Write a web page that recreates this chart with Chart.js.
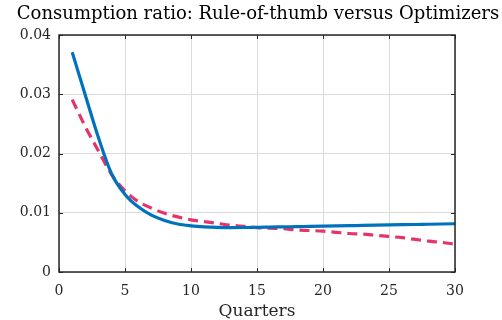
<!DOCTYPE html>
<html>
<head>
<meta charset="utf-8">
<script src="https://cdn.jsdelivr.net/npm/chart.js@4"></script>
<style>
  html, body { margin: 0; padding: 0; background: #fff; }
  #wrap { width: 502px; height: 320px; }
</style>
</head>
<body>
<div id="wrap"><canvas id="ratioChart" width="502" height="320"></canvas></div>
<script>
// Kwartalen en waarden
const quarters = [1, 2, 3, 4, 5, 6, 7, 8, 9, 10, 11, 12, 13, 14, 15,
                  16, 17, 18, 19, 20, 21, 22, 23, 24, 25, 26, 27, 28, 29, 30];
const ruleOfThumb = [0.0371, 0.0298, 0.0226, 0.0165, 0.0131, 0.0110, 0.0096, 0.0087, 0.0081, 0.0078,
                     0.00762, 0.00753, 0.0075, 0.00751, 0.00754, 0.00758, 0.00762, 0.00766, 0.0077, 0.00774,
                     0.00778, 0.00782, 0.00786, 0.0079, 0.00794, 0.00798, 0.00802, 0.00806, 0.0081, 0.00814];
const optimizers = [0.0291, 0.0245, 0.0204, 0.0164, 0.0137, 0.0119, 0.0108, 0.0099, 0.0093, 0.0088,
                    0.0085, 0.0082, 0.0079, 0.0077, 0.0075, 0.0074, 0.0073, 0.0071, 0.0070, 0.0069,
                    0.0067, 0.0065, 0.0064, 0.0062, 0.0060, 0.0058, 0.0055, 0.0052, 0.0050, 0.0047];
const xTicks = [0, 5, 10, 15, 20, 25, 30];
const yTicks = [0, 0.01, 0.02, 0.03, 0.04];
const chartTitle = 'Consumption ratio: Rule-of-thumb versus Optimizers';

const serif = "'DejaVu Serif', serif";

// Titel, kader en tick-streepjes (MATLAB-stijl)
const framePlugin = {
    id: 'frame',
    afterDraw(chart) {
        const ctx = chart.ctx;
        const a = chart.chartArea;
        const xs = chart.scales.x, ys = chart.scales.y;
        ctx.save();
        ctx.strokeStyle = '#262626';
        ctx.lineWidth = 1;
        ctx.beginPath();
        xTicks.forEach(t => {
            const px = Math.round(xs.getPixelForValue(t)) + 0.5;
            ctx.moveTo(px, a.bottom); ctx.lineTo(px, a.bottom - 4);
            ctx.moveTo(px, a.top); ctx.lineTo(px, a.top + 4);
        });
        yTicks.forEach(t => {
            const py = Math.round(ys.getPixelForValue(t)) + 0.5;
            ctx.moveTo(a.left, py); ctx.lineTo(a.left + 4, py);
            ctx.moveTo(a.right, py); ctx.lineTo(a.right - 4, py);
        });
        ctx.stroke();
        ctx.lineWidth = 1.5;
        ctx.strokeRect(a.left, a.top, a.right - a.left, a.bottom - a.top);
        ctx.fillStyle = '#000';
        ctx.font = '18px ' + serif;
        ctx.textAlign = 'center';
        ctx.textBaseline = 'middle';
        ctx.fillText(chartTitle, 258, 14);
        ctx.restore();
    }
};

new Chart(document.getElementById('ratioChart'), {
    type: 'line',
    data: {
        datasets: [{
            label: 'Rule-of-thumb',
            data: quarters.map((q, i) => ({ x: q, y: ruleOfThumb[i] })),
            borderColor: '#0072BD',
            borderWidth: 3.2,
            pointRadius: 0,
            cubicInterpolationMode: 'monotone',
            fill: false
        }, {
            label: 'Optimizers',
            data: quarters.map((q, i) => ({ x: q, y: optimizers[i] })),
            borderColor: '#E6336A',
            borderWidth: 3.2,
            borderDash: [10, 6],
            pointRadius: 0,
            cubicInterpolationMode: 'monotone',
            fill: false
        }]
    },
    options: {
        responsive: false,
        animation: false,
        layout: { padding: { top: 35, right: 47, left: 0, bottom: 0 } },
        plugins: {
            legend: { display: false },
            title: { display: false },
            tooltip: { enabled: false }
        },
        scales: {
            x: {
                type: 'linear',
                min: 0,
                max: 30,
                afterBuildTicks: s => { s.ticks = xTicks.map(v => ({ value: v })); },
                afterFit: s => { s.height = 48; },
                grid: { color: '#dcdcdc', drawTicks: false },
                border: { display: false },
                ticks: { color: '#262626', padding: 11, font: { family: serif, size: 14 }, maxRotation: 0 },
                title: { display: true, text: 'Quarters', color: '#262626', padding: { top: 0, bottom: -2 }, font: { family: serif, size: 17 } }
            },
            y: {
                min: 0,
                max: 0.04,
                afterBuildTicks: s => { s.ticks = yTicks.map(v => ({ value: v })); },
                afterFit: s => { s.width = 59; },
                grid: { color: '#dcdcdc', drawTicks: false },
                border: { display: false },
                ticks: {
                    color: '#262626', padding: 8, font: { family: serif, size: 14 },
                    callback: v => v === 0 ? '0' : v.toFixed(2)
                }
            }
        }
    },
    plugins: [framePlugin]
});
</script>
</body>
</html>
